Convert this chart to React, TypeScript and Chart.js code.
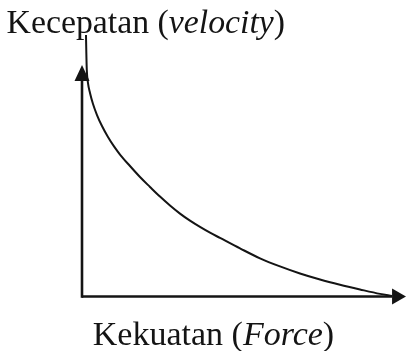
import React, { useEffect, useRef } from "react";
import { Chart, registerables } from "chart.js";

Chart.register(...registerables);

// Force (x, 0..100) and velocity (y, 0..100)
const forceValues = [1.23, 1.33, 1.48, 1.85, 2.47, 3.4, 4.63, 6.17, 8.02, 9.88, 11.73, 14.81, 17.9, 20.99, 24.07, 27.16, 30.25, 33.33, 36.42, 39.51, 42.59, 48.77, 54.94, 61.11, 67.28, 73.46, 79.63, 85.8, 91.98, 95.68];
const velocityValues = [100, 93.5, 86.6, 81.6, 77.8, 73.6, 69.4, 65.2, 61.0, 57.4, 54.3, 49.9, 45.7, 41.9, 38.2, 34.8, 31.7, 29.0, 26.6, 24.4, 22.4, 18.4, 14.6, 11.5, 8.8, 6.5, 4.5, 2.7, 1.0, 0.2];

// Axis extents (data units)
const xAxisTip = 100;
const xAxisArrowBase = 95.7;
const yAxisTip = 88.5;
const yAxisArrowBase = 82.4;

// Labels: segments with italic flags
const yLabelTexts = ["Kecepatan (", "velocity", ")"];
const yLabelItalic = [false, true, false];
const xLabelTexts = ["Kekuatan (", "Force", ")"];
const xLabelItalic = [false, true, false];

const INK = "#141414";

const arrowPlugin = {
  id: "axisArrows",
  afterDatasetsDraw(chart: any) {
    const { ctx, scales } = chart;
    const xs = scales.x;
    const ys = scales.y;
    ctx.save();
    ctx.fillStyle = INK;
    // y-axis arrowhead
    const x0 = xs.getPixelForValue(0);
    const yTip = ys.getPixelForValue(yAxisTip);
    const yBase = ys.getPixelForValue(yAxisArrowBase);
    ctx.beginPath();
    ctx.moveTo(x0, yTip);
    ctx.lineTo(x0 - 7.5, yBase);
    ctx.lineTo(x0 + 7.5, yBase);
    ctx.closePath();
    ctx.fill();
    // x-axis arrowhead
    const y0 = ys.getPixelForValue(0);
    const xTip = xs.getPixelForValue(xAxisTip);
    const xBase = xs.getPixelForValue(xAxisArrowBase);
    ctx.beginPath();
    ctx.moveTo(xTip, y0);
    ctx.lineTo(xBase, y0 - 8);
    ctx.lineTo(xBase, y0 + 8);
    ctx.closePath();
    ctx.fill();
    ctx.restore();
  },
};

function drawSegments(ctx: CanvasRenderingContext2D, texts: string[], italics: boolean[], x: number, y: number, size: number) {
  let cx = x;
  texts.forEach((t, i) => {
    ctx.font = `${italics[i] ? "italic " : ""}${size}px "Liberation Serif", "Times New Roman", serif`;
    ctx.fillText(t, cx, y);
    cx += ctx.measureText(t).width;
  });
}

const labelPlugin = {
  id: "axisLabels",
  afterDraw(chart: any) {
    const { ctx } = chart;
    ctx.save();
    ctx.fillStyle = INK;
    ctx.textBaseline = "alphabetic";
    ctx.textAlign = "left";
    drawSegments(ctx, yLabelTexts, yLabelItalic, 6.5, 33.3, 33.8);
    drawSegments(ctx, xLabelTexts, xLabelItalic, 92.8, 345, 34);
    ctx.restore();
  },
};

export default function App() {
  const ref = useRef<HTMLCanvasElement | null>(null);

  useEffect(() => {
    if (!ref.current) return;
    const chart = new Chart(ref.current, {
      type: "scatter",
      data: {
        datasets: [
          {
            label: "curve",
            data: forceValues.map((f, i) => ({ x: f, y: velocityValues[i] })),
            showLine: true,
            borderColor: INK,
            borderWidth: 2,
            pointRadius: 0,
            cubicInterpolationMode: "monotone",
            clip: false,
          } as any,
          {
            label: "xAxis",
            data: [
              { x: 0, y: 0 },
              { x: xAxisArrowBase, y: 0 },
            ],
            showLine: true,
            borderColor: INK,
            borderWidth: 2.6,
            pointRadius: 0,
            clip: false,
          } as any,
          {
            label: "yAxis",
            data: [
              { x: 0, y: 0 },
              { x: 0, y: yAxisArrowBase },
            ],
            showLine: true,
            borderColor: INK,
            borderWidth: 2.6,
            pointRadius: 0,
            clip: false,
            borderCapStyle: "square",
          } as any,
        ],
      },
      options: {
        animation: false,
        responsive: false,
        events: [],
        layout: { padding: { left: 82, right: 0, top: 35, bottom: 54.5 } },
        scales: {
          x: { type: "linear", min: 0, max: 100, display: false },
          y: { type: "linear", min: 0, max: 100, display: false },
        },
        plugins: {
          legend: { display: false },
          tooltip: { enabled: false },
          title: { display: false },
        },
      },
      plugins: [arrowPlugin, labelPlugin],
    });
    return () => chart.destroy();
  }, []);

  return (
    <div style={{ position: "fixed", left: 0, top: 0, width: 406, height: 351, background: "#fff" }}>
      <canvas ref={ref} width={406} height={351} style={{ display: "block" }} />
    </div>
  );
}
